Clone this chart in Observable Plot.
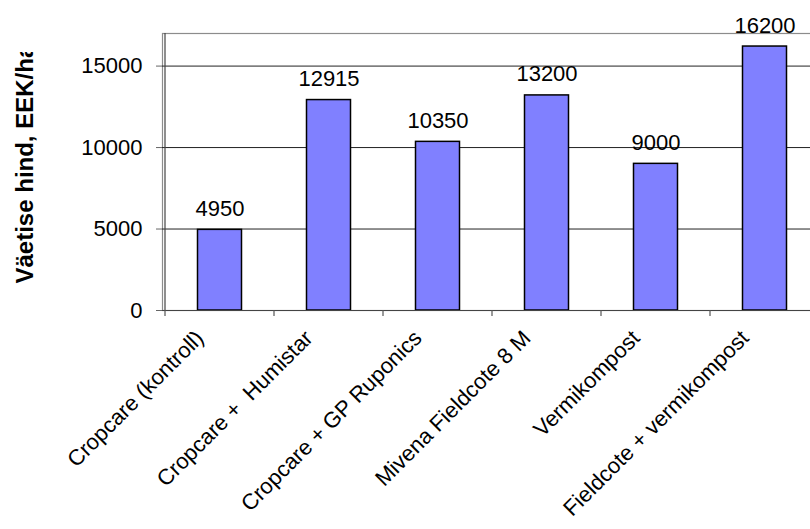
<!DOCTYPE html>
<html>
<head>
<meta charset="utf-8">
<script src="https://cdn.jsdelivr.net/npm/d3@7"></script>
<script src="https://cdn.jsdelivr.net/npm/@observablehq/plot@0.6"></script>
<style>
  html, body { margin: 0; padding: 0; background: #fff; }
  #chart svg { display: block; }
</style>
</head>
<body>
<div id="chart"></div>
<script>
const categories = [
  "Cropcare (kontroll)",
  "Cropcare + \u00a0Humistar",
  "Cropcare + GP Ruponics",
  "Mivena Fieldcote 8 M",
  "Vermikompost",
  "Fieldcote + vermikompost"
];
const values = [4950, 12915, 10350, 13200, 9000, 16200];
const yTicks = [0, 5000, 10000, 15000];
const gridTicks = [5000, 10000, 15000];
const yLabel = "Väetise hind, EEK/ha";

const data = categories.map((c, i) => ({category: c, value: values[i]}));
const font = "Liberation Sans, Arial, Helvetica, sans-serif";

const chart = Plot.plot({
  width: 810,
  height: 529,
  marginLeft: 162,
  marginRight: -11,
  marginTop: 33,
  marginBottom: 219,
  style: {fontFamily: font, background: "#fff", color: "#000"},
  x: {domain: categories, padding: 0, axis: null},
  y: {domain: [0, 17000], axis: null},
  marks: [
    Plot.frame({stroke: "#8c8c8c", strokeWidth: 1.2}),
    Plot.ruleY(gridTicks, {stroke: "#222", strokeWidth: 1}),
    Plot.barY(data, {
      x: "category", y: "value",
      fill: "#8080ff", stroke: "#000", strokeWidth: 1.5,
      insetLeft: 32.5, insetRight: 32.5
    }),
    Plot.ruleY([0], {stroke: "#444", strokeWidth: 1.2}),
    Plot.ruleX([categories[0]], {dx: -55, stroke: "#444", strokeWidth: 1.2}),
    Plot.ruleX(categories, {x: d => d, y1: 0, y2: 0, dx: -55, insetBottom: -6, stroke: "#555", strokeWidth: 1.2}),
    Plot.axisY({
      ticks: yTicks, tickSize: 6, tickPadding: 14,
      tickFormat: d => String(d), fontSize: 22, stroke: "#666",
      label: null
    }),
    Plot.text(data, {
      x: "category", y: "value", text: d => String(d.value),
      dy: -14, lineAnchor: "bottom", fontSize: 22, fill: "#000"
    }),
    Plot.text(categories, {
      x: d => d, y: () => 0, text: d => d,
      rotate: -45, textAnchor: "end", lineAnchor: "bottom",
      dx: -15, dy: 29, fontSize: 22, fill: "#000"
    }),
    Plot.text([yLabel], {
      text: d => d, frameAnchor: "left", rotate: -90,
      textAnchor: "start", dx: -137, dy: 111.5,
      fontSize: 24, fontWeight: "bold", fill: "#000"
    })
  ]
});

document.getElementById("chart").appendChild(chart);

// clip the y-axis title at the top as in the reference
const svg = d3.select(chart);
svg.append("defs").append("clipPath").attr("id", "ylabel-clip")
  .attr("clipPathUnits", "userSpaceOnUse")
  .append("rect").attr("x", 0).attr("y", 52).attr("width", 80).attr("height", 477);
const labelText = svg.selectAll("text").filter(function() { return this.textContent === yLabel; }).node();
if (labelText) {
  const markG = labelText.parentNode;
  const wrapper = document.createElementNS("http://www.w3.org/2000/svg", "g");
  wrapper.setAttribute("clip-path", "url(#ylabel-clip)");
  markG.parentNode.insertBefore(wrapper, markG);
  wrapper.appendChild(markG);
}
</script>
</body>
</html>
